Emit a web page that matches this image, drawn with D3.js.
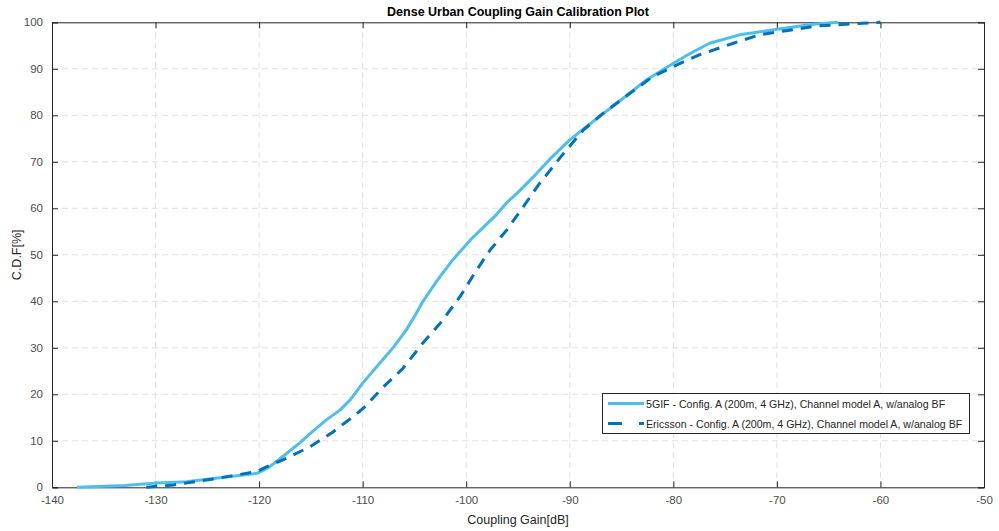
<!DOCTYPE html>
<html><head><meta charset="utf-8">
<script src="https://cdn.jsdelivr.net/npm/d3@7"></script>
<style>body{margin:0;background:#fff;font-family:"Liberation Sans",Arial,sans-serif;}</style>
</head><body><svg id="c" width="999" height="531"></svg>
<script>
const title = "Dense Urban Coupling Gain Calibration Plot";
const xLabel = "Coupling Gain[dB]";
const yLabel = "C.D.F[%]";
const xTicks = [-140,-130,-120,-110,-100,-90,-80,-70,-60,-50];
const yTicks = [0,10,20,30,40,50,60,70,80,90,100];
const seriesNames = ["5GIF - Config. A (200m, 4 GHz), Channel model A, w/analog BF",
                     "Ericsson - Config. A (200m, 4 GHz), Channel model A, w/analog BF"];
// 5GIF (solid)
const gifX = [-137.6,-133,-129.9,-127,-124,-120.2,-119,-117.5,-116.1,-114.8,-113.5,-112.2,-111.2,-110,-108.5,-107,-105.8,-104.9,-104.2,-102.8,-101.3,-99.6,-98.3,-97.1,-96.1,-95.1,-93.5,-92,-90,-88.7,-87.4,-85,-82.6,-80,-78.3,-76.5,-73.6,-70,-66.5,-64.1];
const gifY = [0,0.4,0.9,1.2,2.0,3.0,4.4,7.0,9.5,12.1,14.5,16.6,18.8,22.4,26.3,30.2,33.8,37.1,39.9,44.5,48.9,53.2,56.0,58.6,61.2,63.2,66.8,70.4,74.7,77.0,79.3,83.4,87.6,91.2,93.4,95.5,97.3,98.5,99.6,100];
// Ericsson (dashed)
const ericX = [-130.9,-128.3,-124.1,-120.2,-119.3,-117.7,-115.1,-112.8,-110.75,-109.8,-108,-106.1,-104.2,-102.5,-100.6,-99,-97.7,-96.1,-94.5,-92.9,-90.6,-88.7,-86.8,-84.5,-82,-79.7,-77.5,-74.2,-71.7,-69.1,-66.2,-63.3,-60];
const ericY = [0,0.5,1.9,3.4,4.4,5.9,8.7,12.0,15.5,17.3,21.6,25.6,31.0,35.3,41.0,46.7,51.0,55.3,60.3,65.4,71.8,76.8,80.4,84.2,88.3,90.8,93.0,95.5,97.3,98.2,99.2,99.6,100];

const svg = d3.select("#c");
const L=52, R=984, T=22.3, B=487.3;
const x = d3.scaleLinear().domain([-140,-50]).range([L,R]);
const y = d3.scaleLinear().domain([0,100]).range([B,T]);
const axisCol="#262626", tickTxt="#4d4d4d";
const fmt = d => String(d);

// grid
const g = svg.append("g");
g.selectAll(".gx").data(xTicks.slice(1,-1)).join("line")
  .attr("x1",d=>x(d)).attr("x2",d=>x(d)).attr("y1",T).attr("y2",B)
  .attr("stroke","#e0e0e0").attr("stroke-width",1).attr("stroke-dasharray","6,4");
g.selectAll(".gy").data(yTicks.slice(1,-1)).join("line")
  .attr("y1",d=>y(d)).attr("y2",d=>y(d)).attr("x1",L).attr("x2",R)
  .attr("stroke","#e0e0e0").attr("stroke-width",1).attr("stroke-dasharray","6,4");

// axes
const ax = svg.append("g").attr("transform",`translate(0,${B})`)
  .call(d3.axisBottom(x).tickValues(xTicks).tickSize(-6).tickPadding(9).tickFormat(fmt));
const axT = svg.append("g").attr("transform",`translate(0,${T})`)
  .call(d3.axisTop(x).tickValues(xTicks).tickSize(-6).tickFormat(""));
const ay = svg.append("g").attr("transform",`translate(${L},0)`)
  .call(d3.axisLeft(y).tickValues(yTicks).tickSize(-6).tickPadding(9).tickFormat(fmt));
const ayR = svg.append("g").attr("transform",`translate(${R},0)`)
  .call(d3.axisRight(y).tickValues(yTicks).tickSize(-6).tickFormat(""));
[ax,axT,ay,ayR].forEach(a=>{
  a.selectAll("path").attr("stroke",axisCol).attr("stroke-width",1);
  a.selectAll("line").attr("stroke",axisCol);
  a.selectAll("text").attr("fill",tickTxt).style("font-size","11.5px").style("font-family","'Liberation Sans',Arial,sans-serif");
});

// lines
const lineGen = d3.line().x(d=>x(d[0])).y(d=>y(d[1]));
const gifPts = gifX.map((v,i)=>[v,gifY[i]]);
const ericPts = ericX.map((v,i)=>[v,ericY[i]]);
svg.append("path").datum(gifPts).attr("d",lineGen).attr("fill","none")
  .attr("stroke","#4DBEEE").attr("stroke-width",3).attr("stroke-linejoin","round");
svg.append("path").datum(ericPts).attr("d",lineGen).attr("fill","none")
  .attr("stroke","#0072BD").attr("stroke-width",3).attr("stroke-dasharray","11,8");

// title and labels
svg.append("text").attr("x",(L+R)/2).attr("y",16).attr("text-anchor","middle")
  .style("font-size","12.5px").style("font-weight","bold").attr("fill","#000").text(title);
svg.append("text").attr("x",(L+R)/2).attr("y",524).attr("text-anchor","middle")
  .style("font-size","12.5px").attr("fill","#262626").text(xLabel);
svg.append("text").attr("transform",`translate(21,${(T+B)/2}) rotate(-90)`).attr("text-anchor","middle")
  .style("font-size","12.5px").attr("fill","#262626").text(yLabel);

// legend
const lg = svg.append("g");
lg.append("rect").attr("x",602.5).attr("y",393.5).attr("width",367).attr("height",40)
  .attr("fill","#fff").attr("stroke","#262626").attr("stroke-width",1);
const cols=["#4DBEEE","#0072BD"], dashes=[null,"14,17"];
seriesNames.forEach((n,i)=>{
  const yy = 403.5 + i*20;
  lg.append("line").attr("x1",608).attr("x2",644).attr("y1",yy).attr("y2",yy)
    .attr("stroke",cols[i]).attr("stroke-width",3).attr("stroke-dasharray",dashes[i]);
  lg.append("text").attr("x",646).attr("y",yy+4).style("font-size","10.6px")
    .attr("fill","#262626").text(n);
});
</script></body></html>
